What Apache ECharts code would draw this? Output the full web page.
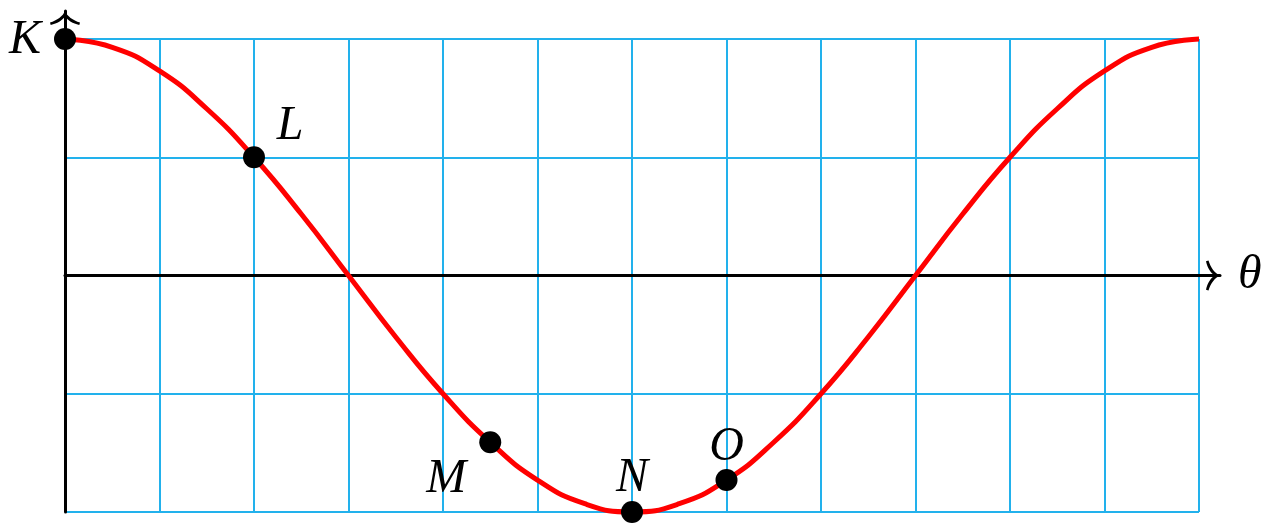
<!DOCTYPE html>
<html>
<head>
<meta charset="utf-8">
<script src="https://cdn.jsdelivr.net/npm/echarts@6/dist/echarts.min.js"></script>
<style>
  html, body { margin: 0; padding: 0; background: #ffffff; }
  #chart { width: 1267px; height: 529px; }
</style>
</head>
<body>
<div id="chart"></div>
<script>
// ---- data ----
const curveX = [0, 0.5, 1, 1.5, 2, 2.5, 3, 3.5, 4, 4.5, 5, 5.5, 6, 6.5, 7, 7.5, 8, 8.5, 9, 9.5, 10, 10.5, 11, 11.5, 12];
const curveY = [2.00, 1.93, 1.73, 1.41, 1.00, 0.52, 0.00, -0.52, -1.00, -1.41, -1.73, -1.93, -2.00, -1.93, -1.73, -1.41, -1.00, -0.52, 0.00, 0.52, 1.00, 1.41, 1.73, 1.93, 2.00];
const pointNames = ['K', 'L', 'M', 'N', 'O'];
const pointX = [0, 2, 4.5, 6, 7];
const pointY = [2, 1, -1.41, -2, -1.73];
const xAxisName = 'θ';
const xMin = 0, xMax = 12, yMin = -2, yMax = 2;

// ---- styles (kept apart from data) ----
const labelOffsets = { K: [-40, 1], L: [36, -31], M: [-44, 37], N: [0, -34], O: [0, -33] };
const gridBlue = '#22b1ec';
const serif = 'Liberation Serif';
const chevron = 'path://M15 0 C17 5 23 9.5 30 11.5 L29.3 14 C22.5 12.5 18 9.5 15 5.5 C12 9.5 7.5 12.5 0.7 14 L0 11.5 C7 9.5 13 5 15 0 Z';

const curveData = curveX.map((x, i) => [x, curveY[i]]);
const pointData = pointNames.map((n, i) => ({
  name: n,
  value: [pointX[i], pointY[i]],
  label: { offset: labelOffsets[n] }
}));

const chart = echarts.init(document.getElementById('chart'));
const plotLeft = 65, plotTop = 39, plotRight = 68, plotBottom = 17;
const extTop = 11, extRight = 47;
const pxPerY = (529 - plotTop - plotBottom) / (yMax - yMin);
const pxPerX = (1267 - plotLeft - plotRight) / (xMax - xMin);
const ext2yMax = yMin + (529 - extTop - plotBottom) / pxPerY;
const ext2xMax = xMin + (1267 - plotLeft - extRight) / pxPerX;

chart.setOption({
  animation: false,
  backgroundColor: '#ffffff',
  grid: [
    { left: plotLeft, right: plotRight, top: plotTop, bottom: plotBottom, containLabel: false, outerBoundsMode: 'none' },
    { left: plotLeft, right: extRight, top: extTop, bottom: plotBottom, containLabel: false, outerBoundsMode: 'none' }
  ],
  xAxis: [
    {
      type: 'value', gridIndex: 0, min: xMin, max: xMax, interval: 1,
      axisLine: { show: false }, axisTick: { show: false }, axisLabel: { show: false },
      splitLine: { show: true, showMinLine: true, showMaxLine: true, lineStyle: { color: gridBlue, width: 2 } },
      z: 0
    },
    {
      type: 'value', gridIndex: 1, min: xMin, max: ext2xMax,
      axisLine: { show: true, onZero: true, symbol: ['none', chevron], symbolSize: [30, 14], symbolOffset: [0, -7],
        lineStyle: { color: '#000000', width: 3 } },
      axisTick: { show: false }, axisLabel: { show: false }, splitLine: { show: false },
      name: xAxisName, nameLocation: 'end', nameGap: 18,
      nameTextStyle: { fontFamily: serif, fontStyle: 'italic', fontSize: 48, color: '#000000', padding: [8, 0, 0, 0] },
      z: 2
    }
  ],
  yAxis: [
    {
      type: 'value', gridIndex: 0, min: yMin, max: yMax, interval: 1,
      axisLine: { show: false }, axisTick: { show: false }, axisLabel: { show: false },
      splitLine: { show: true, showMinLine: true, showMaxLine: true, lineStyle: { color: gridBlue, width: 2 } },
      z: 0
    },
    {
      type: 'value', gridIndex: 1, min: yMin, max: ext2yMax,
      axisLine: { show: true, onZero: false, symbol: ['none', chevron], symbolSize: [30, 14], symbolOffset: [0, -7],
        lineStyle: { color: '#000000', width: 3 } },
      axisTick: { show: false }, axisLabel: { show: false }, splitLine: { show: false },
      z: 2
    }
  ],
  series: [
    {
      type: 'line', xAxisIndex: 0, yAxisIndex: 0,
      data: curveData, smooth: 0.5, showSymbol: false, clip: false,
      lineStyle: { color: '#ff0000', width: 5 }, z: 3
    },
    {
      type: 'scatter', xAxisIndex: 0, yAxisIndex: 0,
      data: pointData, symbol: 'circle', symbolSize: 22, clip: false,
      itemStyle: { color: '#000000', opacity: 1 },
      label: {
        show: true, position: 'inside', formatter: '{b}',
        fontFamily: serif, fontStyle: 'italic', fontSize: 48, color: '#000000', opacity: 1
      },
      z: 4
    }
  ]
});
</script>
</body>
</html>
